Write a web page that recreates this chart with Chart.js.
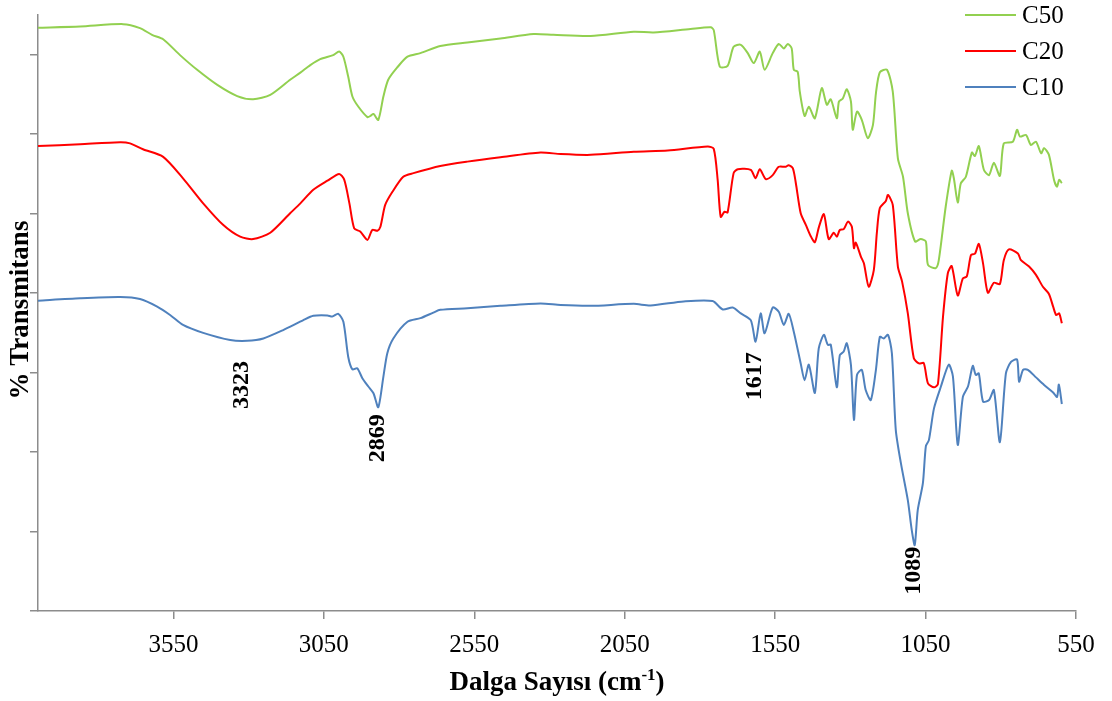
<!DOCTYPE html>
<html>
<head>
<meta charset="utf-8">
<title>FTIR - C10 / C20 / C50</title>
<script src="https://cdn.jsdelivr.net/npm/chart.js@4"></script>
<style>
  html, body { margin: 0; padding: 0; background: #fff; }
  #wrap { width: 1112px; height: 701px; }
</style>
</head>
<body>
<div id="wrap"><canvas id="ftirChart" width="1112" height="701"></canvas></div>
<script>
// FTIR spectra (% transmittance vs wavenumber), three samples stacked

const xTickValues = [550, 1050, 1550, 2050, 2550, 3050, 3550];
const yTickValues = [0, 20, 40, 60, 80, 100, 120, 140];

const seriesNames = ['C50', 'C20', 'C10'];
const seriesColors = ['#92d050', '#ff0000', '#4f81bd'];

// C50 (green)
const c50Wave = [4000, 3860, 3717, 3661, 3621, 3584, 3528, 3471, 3404, 3338,
  3285, 3228, 3162, 3128, 3095, 3062, 3019, 2999, 2985, 2969,
  2955, 2935, 2905, 2895, 2885, 2869, 2852, 2836, 2806, 2772,
  2729, 2663, 2573, 2463, 2353, 2287, 2163, 2020, 1954, 1831,
  1764, 1754, 1734, 1708, 1688, 1664, 1641, 1621, 1601, 1585,
  1558, 1538, 1521, 1508, 1495, 1488, 1475, 1468, 1452, 1438,
  1418, 1395, 1378, 1365, 1345, 1338, 1325, 1312, 1298, 1292,
  1278, 1262, 1242, 1225, 1215, 1202, 1178, 1159, 1142, 1125,
  1109, 1085, 1066, 1049, 1042, 1016, 1006, 983, 963, 956,
  943, 933, 916, 896, 886, 873, 856, 839, 823, 803,
  790, 760, 746, 736, 716, 700, 683, 666, 656, 640,
  623, 613, 606, 597];
const c50T = [146.8, 147.1, 147.7, 146.7, 145.0, 143.9, 139.9, 136.2, 132.4, 129.6,
  128.8, 129.9, 133.7, 135.5, 137.4, 138.9, 139.9, 140.8, 139.5, 134.5,
  129.5, 126.9, 124.3, 124.6, 125.1, 123.6, 129.5, 133.7, 136.8, 139.5,
  140.4, 142.2, 143.1, 144.1, 145.2, 145.0, 144.7, 145.8, 145.6, 146.5,
  146.9, 146.2, 137.0, 137.2, 142.0, 142.5, 140.4, 137.9, 140.8, 136.2,
  140.4, 142.7, 141.6, 142.7, 141.6, 136.2, 135.7, 130.7, 124.6, 126.9,
  124.0, 131.6, 127.4, 128.8, 124.0, 128.2, 129.0, 131.3, 128.2, 121.1,
  125.7, 123.6, 119.0, 122.3, 130.3, 135.6, 136.2, 130.7, 113.9, 109.3,
  100.1, 93.0, 93.6, 93.0, 87.1, 86.3, 88.3, 101.8, 110.8, 108.9,
  102.8, 107.6, 109.3, 115.4, 114.5, 117.0, 111.0, 109.7, 112.8, 109.5,
  117.7, 118.1, 121.1, 119.4, 119.8, 117.3, 118.1, 115.2, 116.5, 114.8,
  108.5, 106.8, 108.5, 107.7];

// C20 (red)
const c20Wave = [4000, 3860, 3727, 3694, 3651, 3584, 3518, 3451, 3385, 3328,
  3285, 3228, 3162, 3128, 3085, 3038, 2999, 2982, 2965, 2949,
  2929, 2905, 2889, 2872, 2862, 2846, 2822, 2786, 2752, 2663,
  2573, 2463, 2330, 2263, 2163, 2020, 1907, 1774, 1754, 1741,
  1731, 1718, 1708, 1688, 1674, 1631, 1615, 1601, 1581, 1558,
  1538, 1515, 1505, 1491, 1481, 1465, 1448, 1432, 1418, 1405,
  1388, 1372, 1355, 1345, 1335, 1322, 1308, 1295, 1288, 1282,
  1265, 1255, 1239, 1222, 1212, 1202, 1182, 1175, 1159, 1142,
  1128, 1109, 1089, 1072, 1056, 1042, 1022, 1009, 992, 976,
  963, 943, 926, 913, 899, 886, 873, 859, 843, 823,
  803, 790, 773, 743, 733, 706, 683, 660, 640, 626,
  616, 606, 597];
const c20T = [117.0, 117.5, 118.0, 117.7, 116.2, 114.3, 108.9, 102.6, 97.2, 94.2,
  93.6, 95.2, 100.1, 102.6, 106.0, 108.3, 110.0, 108.5, 102.6, 96.3,
  95.5, 93.4, 95.9, 95.7, 96.7, 102.2, 105.5, 109.3, 110.2, 112.0,
  113.1, 114.2, 115.4, 115.0, 114.8, 115.6, 115.9, 116.9, 116.3, 108.5,
  99.2, 100.5, 100.3, 110.2, 111.2, 111.0, 108.9, 111.2, 108.7, 109.7,
  111.8, 111.8, 112.2, 111.4, 107.6, 100.1, 97.2, 94.4, 92.8, 96.5,
  99.9, 93.6, 95.2, 94.2, 95.9, 96.1, 98.0, 96.7, 91.3, 92.7,
  89.2, 87.5, 81.6, 85.8, 95.1, 101.4, 103.2, 104.7, 102.2, 86.7,
  82.9, 74.9, 63.6, 62.3, 62.4, 57.3, 56.3, 57.1, 74.1, 85.0,
  86.8, 79.4, 83.7, 84.2, 89.6, 89.9, 92.4, 87.5, 80.1, 82.6,
  82.3, 88.3, 91.0, 90.0, 88.3, 86.7, 84.6, 81.6, 79.8, 76.6,
  74.5, 74.9, 72.4];

// C10 (blue)
const c10Wave = [4000, 3860, 3727, 3661, 3604, 3561, 3518, 3451, 3361, 3305,
  3251, 3185, 3118, 3085, 3038, 3022, 3002, 2985, 2969, 2955,
  2939, 2922, 2902, 2885, 2869, 2852, 2839, 2819, 2772, 2729,
  2686, 2663, 2573, 2463, 2330, 2263, 2163, 2020, 1964, 1854,
  1758, 1724, 1691, 1664, 1631, 1615, 1598, 1585, 1558, 1538,
  1521, 1505, 1488, 1465, 1452, 1438, 1418, 1405, 1388, 1375,
  1365, 1345, 1335, 1322, 1312, 1298, 1288, 1278, 1262, 1249,
  1232, 1215, 1202, 1189, 1175, 1162, 1149, 1132, 1109, 1096,
  1086, 1076, 1059, 1049, 1039, 1022, 999, 973, 959, 943,
  926, 909, 893, 883, 873, 859, 839, 823, 803, 783,
  766, 746, 739, 726, 710, 683, 656, 626, 613, 607,
  597];
const c10T = [78.1, 78.7, 79.0, 78.5, 76.6, 74.5, 72.0, 70.0, 68.2, 68.0,
  68.6, 70.7, 73.2, 74.3, 74.4, 74.1, 74.8, 72.8, 64.0, 60.8,
  61.1, 58.6, 56.5, 54.8, 51.3, 59.0, 64.9, 68.6, 72.8, 73.7,
  75.1, 75.8, 76.2, 76.8, 77.4, 77.0, 76.8, 77.3, 76.9, 77.9,
  78.0, 75.9, 76.4, 74.9, 73.2, 67.8, 74.9, 69.9, 76.4, 75.3,
  72.0, 74.8, 70.3, 62.3, 58.1, 62.0, 54.9, 66.1, 69.5, 67.0,
  67.0, 56.3, 64.4, 65.3, 67.4, 61.9, 48.1, 59.4, 60.7, 55.6,
  53.1, 60.7, 69.0, 68.6, 69.5, 64.9, 45.6, 37.2, 27.9, 20.4,
  16.6, 25.4, 32.1, 41.5, 43.0, 51.0, 56.5, 62.0, 59.0, 41.8,
  53.9, 56.5, 61.7, 59.4, 59.8, 52.7, 53.1, 55.6, 42.5, 59.8,
  62.7, 63.3, 57.7, 60.7, 60.7, 58.8, 56.9, 55.0, 53.9, 57.0,
  52.1];

// peak annotations on the C10 curve
const peakLabels = ['3323', '2869', '1617', '1089'];
const peakWave = [3323, 2869, 1617, 1089];
const peakLabelY = [56.9, 43.5, 59.1, 10.1];

const xTitleMain = 'Dalga Sayısı (cm';
const xTitleSup = '-1';
const xTitleEnd = ')';
const yTitle = '% Transmitans';

const axisColor = '#8c8c8c';
const serif = '"Liberation Serif", "Times New Roman", serif';

function toPoints(wave, vals) {
    return wave.map(function(w, i) { return { x: w, y: vals[i] }; });
}

const seriesWave = [c50Wave, c20Wave, c10Wave];
const seriesVals = [c50T, c20T, c10T];

const datasets = seriesNames.map(function(name, i) {
    return {
        label: name,
        data: toPoints(seriesWave[i], seriesVals[i]),
        borderColor: seriesColors[i],
        backgroundColor: seriesColors[i],
        borderWidth: 2,
        pointRadius: 0,
        fill: false,
        tension: 0.25
    };
});

// titles, peak labels and the legend are drawn by hand
const decorPlugin = {
    id: 'ftirDecor',
    afterDraw(chart) {
        const ctx = chart.ctx;
        const area = chart.chartArea;
        const xs = chart.scales.x;
        const ys = chart.scales.y;
        ctx.save();
        ctx.fillStyle = '#000';

        // x axis title with superscript
        ctx.font = 'bold 27px ' + serif;
        const w1 = ctx.measureText(xTitleMain).width;
        const w3 = ctx.measureText(xTitleEnd).width;
        ctx.font = 'bold 17px ' + serif;
        const w2 = ctx.measureText(xTitleSup).width;
        let tx = (area.left + area.right) / 2 - (w1 + w2 + w3) / 2;
        const baseY = 690;
        ctx.textAlign = 'left';
        ctx.textBaseline = 'alphabetic';
        ctx.font = 'bold 27px ' + serif;
        ctx.fillText(xTitleMain, tx, baseY);
        ctx.font = 'bold 17px ' + serif;
        ctx.fillText(xTitleSup, tx + w1, baseY - 10);
        ctx.font = 'bold 27px ' + serif;
        ctx.fillText(xTitleEnd, tx + w1 + w2, baseY);

        // y axis title
        ctx.save();
        ctx.translate(21, 310);
        ctx.rotate(-Math.PI / 2);
        ctx.textAlign = 'center';
        ctx.textBaseline = 'middle';
        ctx.fillText(yTitle, 0, 0);
        ctx.restore();

        // peak labels
        ctx.font = 'bold 24px ' + serif;
        for (let i = 0; i < peakLabels.length; i++) {
            ctx.save();
            ctx.translate(xs.getPixelForValue(peakWave[i]), ys.getPixelForValue(peakLabelY[i]));
            ctx.rotate(-Math.PI / 2);
            ctx.textAlign = 'center';
            ctx.textBaseline = 'middle';
            ctx.fillText(peakLabels[i], 0, 0);
            ctx.restore();
        }

        // legend (top right, inside plot)
        ctx.font = '25px ' + serif;
        ctx.textAlign = 'left';
        ctx.textBaseline = 'middle';
        chart.data.datasets.forEach(function(ds, i) {
            const ly = area.top + i * 36;
            ctx.strokeStyle = ds.borderColor;
            ctx.lineWidth = 2;
            ctx.beginPath();
            ctx.moveTo(area.right - 111, ly);
            ctx.lineTo(area.right - 60, ly);
            ctx.stroke();
            ctx.fillText(ds.label, area.right - 54, ly + 1);
        });
        ctx.restore();
    }
};

const ctx = document.getElementById('ftirChart').getContext('2d');
new Chart(ctx, {
    type: 'line',
    data: { datasets: datasets },
    options: {
        responsive: false,
        animation: false,
        layout: { padding: { top: 15, right: 36, left: 0, bottom: 0 } },
        plugins: {
            legend: { display: false },
            tooltip: { enabled: false },
            title: { display: false }
        },
        scales: {
            x: {
                type: 'linear',
                reverse: true,
                min: 550,
                max: 4000,
                afterBuildTicks: function(scale) {
                    scale.ticks = xTickValues.map(function(v) { return { value: v }; });
                },
                afterFit: function(scale) { scale.height = 90; },
                ticks: {
                    color: '#000',
                    font: { family: serif, size: 25 },
                    padding: 11,
                    maxRotation: 0,
                    autoSkip: false,
                    callback: function(value) { return String(value); }
                },
                grid: {
                    display: true,
                    drawOnChartArea: false,
                    drawTicks: true,
                    tickLength: 8,
                    color: axisColor,
                    lineWidth: 1.5
                },
                border: { display: true, color: axisColor, width: 1.5 }
            },
            y: {
                min: 0,
                max: 150,
                afterBuildTicks: function(scale) {
                    scale.ticks = yTickValues.map(function(v) { return { value: v }; });
                },
                afterFit: function(scale) { scale.width = 38; },
                ticks: { display: false },
                grid: {
                    display: true,
                    drawOnChartArea: false,
                    drawTicks: true,
                    tickLength: 8,
                    color: axisColor,
                    lineWidth: 1.5
                },
                border: { display: true, color: axisColor, width: 1.5 }
            }
        }
    },
    plugins: [decorPlugin]
});
</script>
</body>
</html>
